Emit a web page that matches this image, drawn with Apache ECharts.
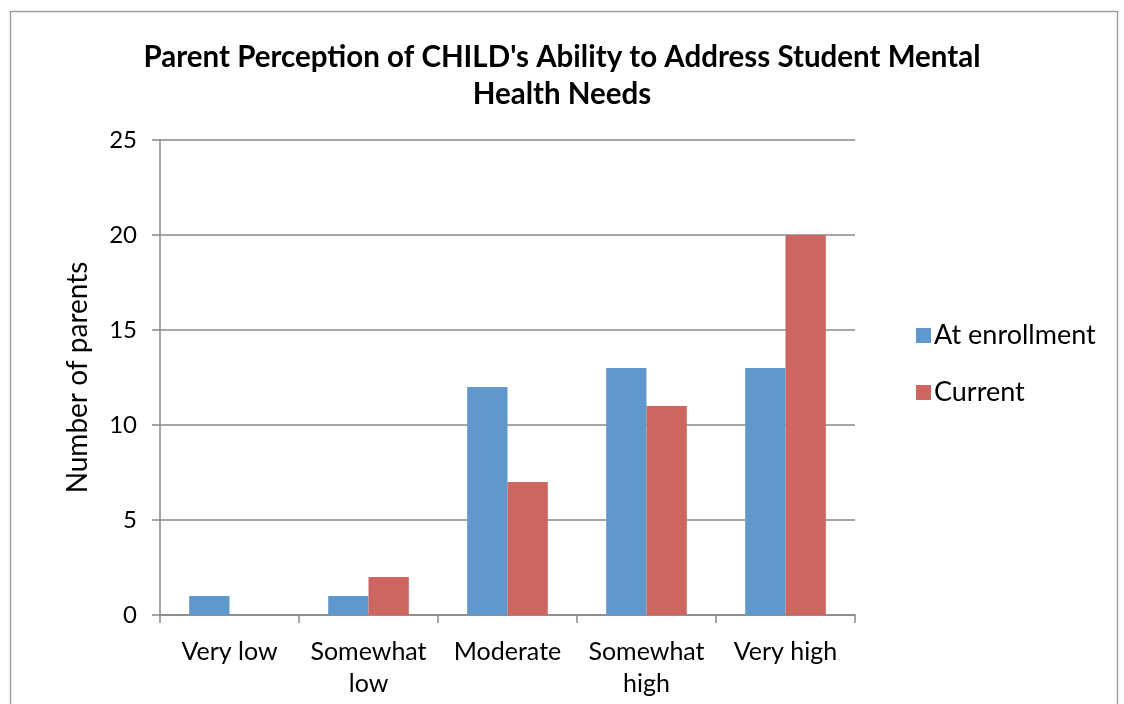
<!DOCTYPE html>
<html>
<head>
<meta charset="utf-8">
<script src="https://cdn.jsdelivr.net/npm/echarts@6/dist/echarts.min.js"></script>
<style>
	html,body{margin:0;padding:0;background:#fff;}
	#main{width:1124px;height:704px;}
</style>
</head>
<body>
<div id="main"></div>
<script>
	var categories = ['Very low', 'Somewhat\nlow', 'Moderate', 'Somewhat\nhigh', 'Very high'];
	var atEnrollment = [1, 1, 12, 13, 13];
	var current = [0, 2, 7, 11, 20];
	var yTicks = [0, 5, 10, 15, 20, 25];

	var font = 'Lato, "Open Sans", sans-serif';
	var myChart = echarts.init(document.getElementById('main'));
	var option = {
		animation: false,
		backgroundColor: '#fff',
		graphic: [{
			type: 'rect',
			shape: { x: 10.5, y: 11.5, width: 1107, height: 720 },
			style: { fill: 'none', stroke: '#a0a0a0', lineWidth: 1.5 }
		}],
		title: {
			text: "Parent Perception of CHILD's Ability to Address Student Mental\nHealth Needs",
			left: 'center',
			top: 34,
			textStyle: {
				fontFamily: font,
				fontWeight: 'bold',
				fontSize: 29.5,
				lineHeight: 37,
				color: '#000'
			}
		},
		legend: {
			orient: 'vertical',
			left: 911,
			top: 317,
			itemWidth: 15,
			itemHeight: 15,
			itemGap: 30,
			icon: 'rect',
			textStyle: { fontFamily: font, fontSize: 27, color: '#000', padding: [0, 0, 0, -2] },
			data: ['At enrollment', 'Current']
		},
		grid: { left: 160, right: 269, top: 140, bottom: 89 },
		xAxis: {
			type: 'category',
			data: categories,
			axisLine: { lineStyle: { color: '#888', width: 1.5 } },
			axisTick: { show: true, length: 8, lineStyle: { color: '#888', width: 1.5 } },
			axisLabel: {
				fontFamily: font, fontSize: 25, color: '#000',
				lineHeight: 32, margin: 21, interval: 0
			}
		},
		yAxis: {
			type: 'value',
			min: yTicks[0],
			max: yTicks[yTicks.length - 1],
			interval: 5,
			name: 'Number of parents',
			nameLocation: 'middle',
			nameGap: 68,
			nameTextStyle: { fontFamily: font, fontSize: 28, color: '#000' },
			axisLine: { show: true, lineStyle: { color: '#888', width: 1.5 } },
			axisTick: { show: true, length: 8, lineStyle: { color: '#888', width: 1.5 } },
			axisLabel: { fontFamily: font, fontSize: 24, color: '#000', margin: 23 },
			splitLine: { lineStyle: { color: '#888', width: 1.5 } }
		},
		series: [{
			name: 'At enrollment',
			type: 'bar',
			data: atEnrollment,
			barGap: '0%',
			barCategoryGap: '42%',
			itemStyle: { color: '#6097cc' }
		}, {
			name: 'Current',
			type: 'bar',
			data: current,
			itemStyle: { color: '#cd6560' }
		}]
	};
	myChart.setOption(option);
</script>
</body>
</html>
